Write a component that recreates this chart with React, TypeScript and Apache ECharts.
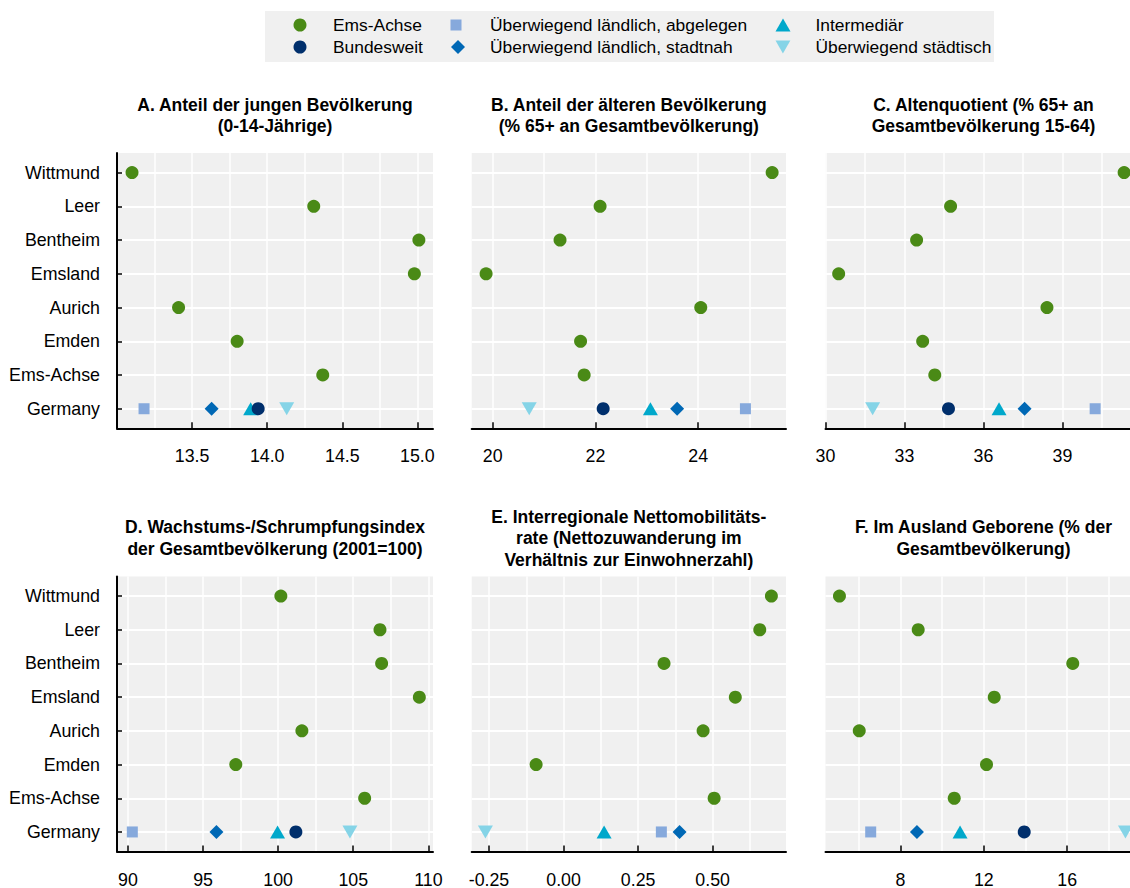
import React, { useEffect, useRef } from "react";
import * as echarts from "echarts";

// ---------- data ----------
const regions = ["Wittmund", "Leer", "Bentheim", "Emsland", "Aurich", "Emden", "Ems-Achse", "Germany"];

const panelTitles = [
  "A. Anteil der jungen Bevölkerung\n(0-14-Jährige)",
  "B. Anteil der älteren Bevölkerung\n(% 65+ an Gesamtbevölkerung)",
  "C. Altenquotient (% 65+ an\nGesamtbevölkerung 15-64)",
  "D. Wachstums-/Schrumpfungsindex\nder Gesamtbevölkerung (2001=100)",
  "E. Interregionale Nettomobilitäts-\nrate (Nettozuwanderung im\nVerhältnis zur Einwohnerzahl)",
  "F. Im Ausland Geborene (% der\nGesamtbevölkerung)",
];

// Ems-Achse regions (Wittmund ... Ems-Achse), one array per panel
const emsA = [13.1, 14.31, 15.01, 14.98, 13.41, 13.8, 14.37];
const emsB = [25.44, 22.09, 21.31, 19.87, 24.05, 21.71, 21.78];
const emsC = [41.34, 34.75, 33.46, 30.5, 38.41, 33.69, 34.15];
const emsD = [100.18, 106.78, 106.89, 109.4, 101.58, 97.18, 105.76];
const emsE = [0.697, 0.658, 0.337, 0.576, 0.468, -0.092, 0.505];
const emsF = [5.07, 8.85, 16.27, 12.5, 6.02, 12.13, 10.58];
const emsAchse = [emsA, emsB, emsC, emsD, emsE, emsF];

// Germany by settlement type, one value per panel (A..F)
const abgelegen = [13.18, 24.92, 40.24, 90.29, 0.328, 6.57];
const stadtnah = [13.63, 23.59, 37.56, 95.89, 0.389, 8.79];
const intermediaer = [13.89, 23.07, 36.59, 99.96, 0.136, 10.86];
const staedtisch = [14.13, 20.71, 31.79, 104.78, -0.262, 18.8];
const bundesweit = [13.94, 22.15, 34.67, 101.18, null, 13.94];

// axis ranges and tick labels
const axisMin = [13.0, 19.59, 30, 89.27, -0.308, 4.4];
const axisMax = [15.104, 25.71, 42, 110.31, 0.746, 19.57];
const axisStep = [0.5, 2, 3, 5, 0.25, 4];
const ticksA = [13.5, 14.0, 14.5, 15.0];
const ticksB = [20, 22, 24];
const ticksC = [30, 33, 36, 39];
const ticksD = [90, 95, 100, 105, 110];
const ticksE = [-0.25, 0, 0.25, 0.5];
const ticksF = [8, 12, 16];
const tickLists = [ticksA, ticksB, ticksC, ticksD, ticksE, ticksF];
const tickDecimals = [1, 0, 0, 0, 2, 0];

// ---------- styles ----------
const FONT = "'Liberation Sans',Arial,sans-serif";
const GREEN = "#4a8a16";
const NAVY = "#002f6c";
const C_ABG = "#86a9dc";
const C_STADTNAH = "#0068b5";
const C_INTER = "#00a8cb";
const C_STAEDT = "#85d4e7";
const INV_TRI = "path://M0,0L16,0L8,14Z";

function buildOption() {
  const gridLeft = [117, 471.7, 825.5];
  const gridWidth = [316, 314.3, 316];
  const gridTop = [153, 576.5];
  const gridHeight = [275.3, 275];
  const rowIdx = regions.map((_, i) => i);
  const germanyRow = regions.indexOf("Germany");

  const germanTypes = [
    { name: "Überwiegend ländlich, abgelegen", values: abgelegen, symbol: "rect", size: 11, rotate: 0, color: C_ABG },
    { name: "Überwiegend ländlich, stadtnah", values: stadtnah, symbol: "diamond", size: 14, rotate: 0, color: C_STADTNAH },
    { name: "Intermediär", values: intermediaer, symbol: "triangle", size: [15, 13], rotate: 0, color: C_INTER },
    { name: "Überwiegend städtisch", values: staedtisch, symbol: "triangle", size: [15, 13], rotate: 180, color: C_STAEDT },
    { name: "Bundesweit", values: bundesweit, symbol: "circle", size: 13, rotate: 0, color: NAVY },
  ];

  const grids: any[] = [];
  const xAxes: any[] = [];
  const yAxes: any[] = [];
  const series: any[] = [];
  const graphics: any[] = [
    { type: "rect", shape: { x: 265, y: 11, width: 729, height: 51 }, style: { fill: "#f0f0f0" }, z: 0, silent: true },
  ];

  for (let p = 0; p < 6; p++) {
    const col = p % 3;
    const row = Math.floor(p / 3);
    const tv = tickLists[p];
    const dec = tickDecimals[p];
    grids.push({
      left: gridLeft[col],
      top: gridTop[row],
      width: gridWidth[col],
      height: gridHeight[row],
      show: true,
      backgroundColor: "#f0f0f0",
      borderWidth: 0,
      containLabel: false,
      outerBoundsMode: "none",
    });
    xAxes.push({
      type: "value",
      gridIndex: p,
      min: axisMin[p],
      max: axisMax[p],
      minInterval: axisStep[p],
      maxInterval: axisStep[p],
      splitNumber: 4,
      axisLine: { show: true, onZero: false, lineStyle: { color: "#000", width: 2 } },
      axisTick: { show: true, inside: true, length: 6, customValues: tv, lineStyle: { color: "#000", width: 1.5 } },
      axisLabel: {
        show: true,
        customValues: tv,
        margin: 19,
        color: "#000",
        fontFamily: FONT,
        fontSize: 17.8,
        formatter: (v: number) => (tv.some((t) => Math.abs(t - v) < 1e-6) ? v.toFixed(dec) : ""),
      },
      splitLine: { show: true, lineStyle: { color: "#ffffff", width: 1.5 } },
      minorTick: { show: false, splitNumber: 2 },
      minorSplitLine: { show: true, lineStyle: { color: "#ffffff", width: 1.5 } },
    });
    yAxes.push({
      type: "value",
      gridIndex: p,
      inverse: true,
      min: -0.58,
      max: regions.length - 1 + 0.58,
      minInterval: 1,
      maxInterval: 1,
      axisLine: { show: col === 0, onZero: false, lineStyle: { color: "#000", width: 2 } },
      axisTick: { show: col === 0, inside: true, length: 5, customValues: rowIdx, lineStyle: { color: "#000", width: 1.5 } },
      axisLabel: {
        show: col === 0,
        customValues: rowIdx,
        margin: 17,
        color: "#000",
        fontFamily: FONT,
        fontSize: 17.8,
        formatter: (v: number) => (Number.isInteger(v) && regions[v] ? regions[v] : ""),
      },
      splitLine: { show: true, lineStyle: { color: "#ffffff", width: 2 } },
    });

    series.push({
      type: "scatter",
      name: "Ems-Achse",
      xAxisIndex: p,
      yAxisIndex: p,
      symbol: "circle",
      symbolSize: 13,
      itemStyle: { color: GREEN, opacity: 1 },
      data: emsAchse[p].map((v, i) => [v, i]),
    });
    germanTypes.forEach((t) => {
      const v = t.values[p];
      if (v === null || v === undefined) return;
      series.push({
        type: "scatter",
        name: t.name,
        xAxisIndex: p,
        yAxisIndex: p,
        symbol: t.symbol,
        symbolSize: t.size,
        symbolRotate: t.rotate,
        itemStyle: { color: t.color, opacity: 1 },
        data: [[v, germanyRow]],
      });
    });

    graphics.push({
      type: "text",
      x: gridLeft[col] + gridWidth[col] / 2,
      y: row === 0 ? 115.5 : 538,
      silent: true,
      style: {
        text: panelTitles[p],
        fill: "#000",
        fontFamily: FONT,
        fontWeight: "bold",
        fontSize: 17.5,
        lineHeight: 21.5,
        align: "center",
        verticalAlign: "middle",
      },
    });
  }

  const legendItems = [
    { name: "Ems-Achse", icon: "circle", w: 13, h: 13, cx: 300, cy: 25, textX: 333 },
    { name: "Bundesweit", icon: "circle", w: 13, h: 13, cx: 300, cy: 47, textX: 333 },
    { name: "Überwiegend ländlich, abgelegen", icon: "rect", w: 11, h: 11, cx: 456, cy: 25, textX: 490 },
    { name: "Überwiegend ländlich, stadtnah", icon: "diamond", w: 14, h: 14, cx: 458, cy: 47, textX: 490 },
    { name: "Intermediär", icon: "triangle", w: 15, h: 13, cx: 783, cy: 25, textX: 815.5 },
    { name: "Überwiegend städtisch", icon: INV_TRI, w: 15, h: 13, cx: 783, cy: 47, textX: 815.5 },
  ];
  const legends = legendItems.map((it) => {
    const left = it.cx - it.w / 2;
    const pad = it.textX - (left + it.w + 5);
    return {
      show: true,
      orient: "vertical",
      left,
      top: it.cy - 11,
      padding: 0,
      itemGap: 0,
      itemWidth: it.w,
      itemHeight: it.h,
      selectedMode: false,
      data: [{ name: it.name, icon: it.icon }],
      textStyle: {
        color: "#000",
        fontFamily: FONT,
        fontSize: 17.4,
        lineHeight: 22,
        padding: [0, 0, 0, pad],
      },
    };
  });

  return {
    animation: false,
    backgroundColor: "#ffffff",
    grid: grids,
    xAxis: xAxes,
    yAxis: yAxes,
    legend: legends,
    graphic: graphics,
    series,
  };
}

export default function App() {
  const ref = useRef<HTMLDivElement>(null);
  useEffect(() => {
    document.body.style.margin = "0";
    if (!ref.current) return;
    const chart = echarts.init(ref.current, undefined, { renderer: "svg" });
    chart.setOption(buildOption() as any);
    return () => {
      chart.dispose();
    };
  }, []);
  return <div ref={ref} style={{ width: 1130, height: 888 }} />;
}
